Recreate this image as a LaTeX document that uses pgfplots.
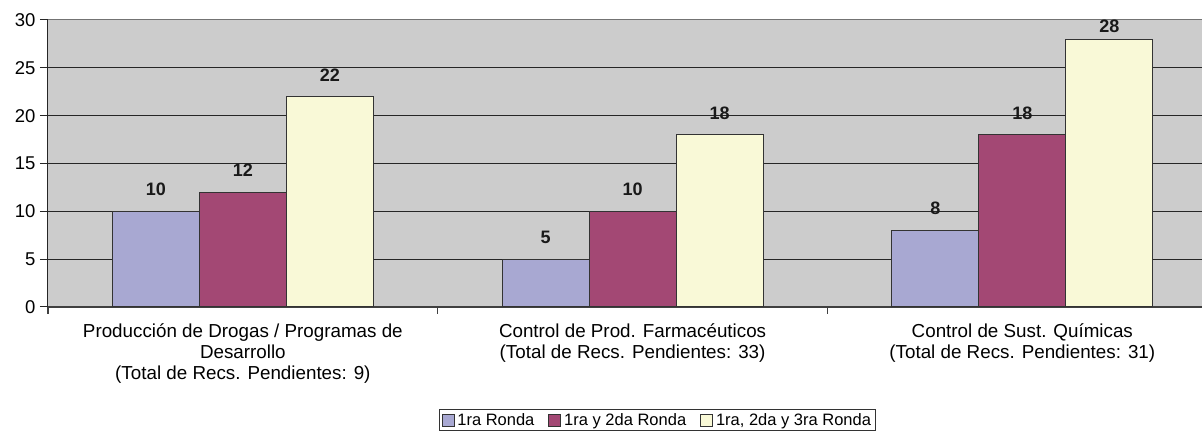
\documentclass[border=0pt]{standalone}
\usepackage{pgfplots}
\pgfplotsset{compat=1.18}
\usepackage{pgfplotstable}
\usepackage{fontspec}
\setmainfont{Liberation Sans}
\definecolor{plotgray}{HTML}{CCCCCC}
\definecolor{lav}{HTML}{A8A8D2}
\definecolor{maroon}{HTML}{A34874}
\definecolor{pale}{HTML}{F9F9D7}
\definecolor{edge}{HTML}{333333}

\pgfplotstableread{
x y shift
0 10 15
1 5 15
2 8 15
}\seriesA
\pgfplotstableread{
x y shift
0 12 15
1 10 15
2 18 15
}\seriesB
\pgfplotstableread{
x y shift
0 22 15
1 18 15
2 28 5.5
}\seriesC

\begin{document}
\begin{tikzpicture}
\begin{axis}[
  scale only axis,
  width=1154pt, height=287pt,
  at={(0,0)}, anchor=south west,
  xmin=-0.5, xmax=2.461,
  ymin=0, ymax=30,
  ybar=0pt, bar width=87pt,
  axis background/.style={fill=plotgray},
  separate axis lines,
  axis x line*=bottom, axis y line*=left,
  x axis line style={draw=black!75, line width=1.6pt},
  y axis line style={draw=black!85, line width=1pt},
  ytick={0,5,...,25},
  extra y ticks={30},
  extra y tick style={grid style={draw=black!55, line width=1pt}},
  ymajorgrids,
  grid style={draw=black!85, line width=1pt},
  y tick style={draw=black!85, line width=1pt},
  major tick length=8pt,
  tick align=outside,
  y tick label style={font=\fontsize{18.5}{21}\selectfont, xshift=-1pt},
  yticklabel style={/pgf/number format/assume math mode=true},
  xtick={0,1,2},
  x tick style={draw=none},
  xticklabels={{Producción de Drogas / Programas de\\Desarrollo\\(Total de Recs. Pendientes: 9)},
               {Control de Prod. Farmacéuticos\\(Total de Recs. Pendientes: 33)},
               {Control de Sust. Químicas\\(Total de Recs. Pendientes: 31)}},
  x tick label style={align=center, font=\fontsize{18.8}{21}\selectfont, yshift=-5pt},
  extra x ticks={-0.5,0.5,1.5},
  extra x tick labels={},
  extra x tick style={grid=none, x tick style={draw=black!75, line width=1.2pt}, major tick length=7pt},
  nodes near coords={\pgfmathprintnumber[assume math mode=true]{\pgfplotspointmeta}},
  visualization depends on={\thisrow{shift} \as \lshift},
  every node near coord/.append style={font=\bfseries\fontsize{18}{21}\selectfont, anchor=south, inner sep=0pt, yshift=\lshift pt, text=black!90},
  legend style={at={(0.528,-0.355)}, anchor=north, legend columns=-1,
    draw=black!80, line width=0.8pt, font=\fontsize{16.5}{19}\selectfont,
    inner xsep=2pt, inner ysep=2pt,
    /tikz/every odd column/.append style={column sep=1pt},
    /tikz/every even column/.append style={column sep=12pt}},
  legend image code/.code={\draw[#1, draw=edge, line width=0.8pt] (0pt,-6pt) rectangle (12pt,6pt);},
  clip=false,
]
\addplot[fill=lav, draw=edge, line width=1pt] table[x=x,y=y] {\seriesA};
\addplot[fill=maroon, draw=edge, line width=1pt] table[x=x,y=y] {\seriesB};
\addplot[fill=pale, draw=edge, line width=1pt] table[x=x,y=y] {\seriesC};
\legend{1ra Ronda, 1ra y 2da Ronda, {1ra, 2da y 3ra Ronda}}
\end{axis}
\pgfresetboundingbox
\useasboundingbox (-48pt,-126pt) rectangle (1154pt,307pt);
\end{tikzpicture}
\end{document}
